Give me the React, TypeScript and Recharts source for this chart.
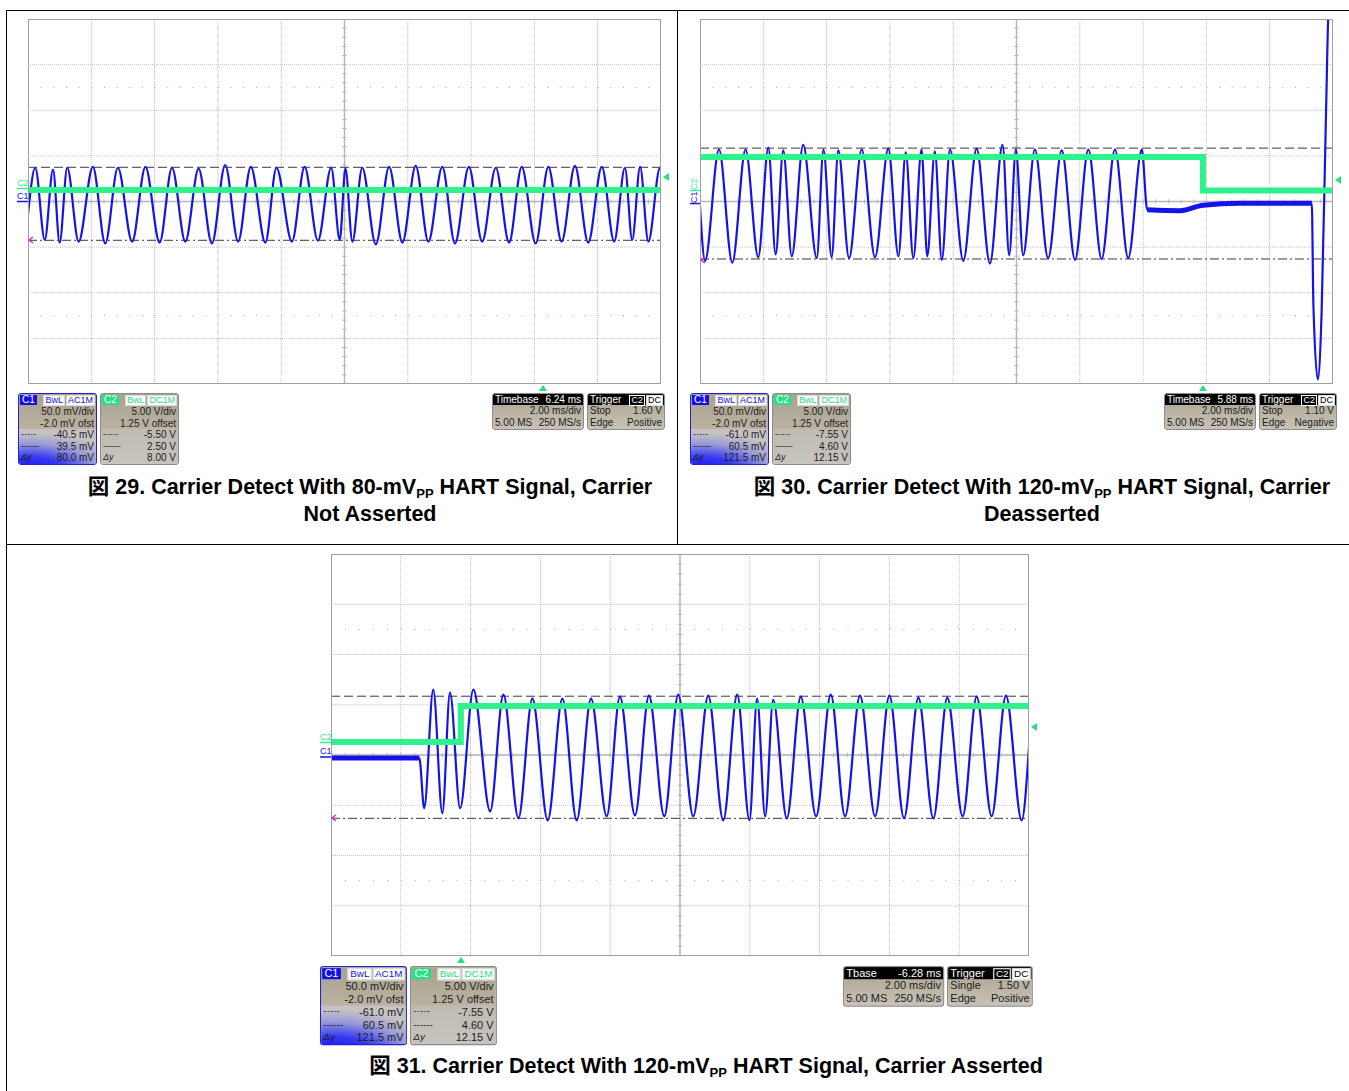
import React from 'react';
import { LineChart, Line, XAxis, YAxis, CartesianGrid, ReferenceLine } from 'recharts';

const BLUE = '#1414ea';
const GREEN = '#2ef28e';
const FONT = '"Liberation Sans", Arial, "Noto Sans CJK JP", sans-serif';

// 2 ms/div over 10 divisions
const TIME_TICKS = [0, 2, 4, 6, 8, 10, 12, 14, 16, 18, 20];
// C1: 50 mV/div, -2.0 mV offset -> screen centre sits at +2 mV
const C1_CENTER = 2;
const C1_DIV = 50;
const C1_DOMAIN = [C1_CENTER - 4 * C1_DIV, C1_CENTER + 4 * C1_DIV];
const C1_TICKS = [-198, -148, -98, -48, 2, 52, 102, 152, 202];
// C2: 5 V/div, 1.25 V offset
const C2_DOMAIN = [-21.25, 18.75];

// Fig. 29 – 80 mVpp HART, CD low
const FIG29_T = [
  0, 0.23, 0.53, 0.79, 1.0, 1.24, 1.6, 2.05, 2.44, 2.84,
  3.29, 3.71, 4.16, 4.55, 4.97, 5.39, 5.81, 6.23, 6.64, 7.04,
  7.5, 7.85, 8.34, 8.74, 9.16, 9.58, 9.85, 10.03, 10.25, 10.56,
  10.99, 11.41, 11.83, 12.25, 12.65, 13.09, 13.49, 13.93, 14.35, 14.78,
  15.2, 15.6, 16.04, 16.44, 16.86, 17.28, 17.7, 18.13, 18.52, 18.86,
  19.09, 19.34, 19.6, 19.97, 20,
];
const FIG29_C1 = [
  -12, 39, -40, 37, -43, 39, -42, 40, -44, 39,
  -42, 40, -43, 39, -42, 38, -44, 42, -42, 40,
  -43, 39, -42, 40, -41, 39, -40, 38, -42, 39,
  -45, 40, -43, 41, -42, 40, -44, 40, -42, 39,
  -43, 40, -44, 40, -42, 41, -43, 40, -42, 39,
  -40, 40, -42, 39, 36,
];
const FIG29_CD_T = [0, 20];
const FIG29_CD = [0.01, 0.01];
const FIG29_CURSORS = [39.5, -40.5];

// Fig. 30 – 120 mVpp HART, carrier drops out
const FIG30_T = [
  0, 0.16, 0.6, 1.02, 1.44, 1.84, 2.16, 2.39, 2.63, 2.9,
  3.26, 3.69, 3.9, 4.16, 4.37, 4.71, 5.11, 5.53, 5.95, 6.27,
  6.5, 6.74, 7.0, 7.18, 7.42, 7.64, 7.9, 8.32, 8.74, 9.16,
  9.56, 9.77, 9.98, 10.21, 10.58, 11.0, 11.43, 11.85, 12.27, 12.69,
  13.11, 13.53, 13.96, 14.13, 15.17, 15.89, 17.06, 19.33, 19.38, 19.52,
  19.64, 19.78, 19.87, 20,
];
const FIG30_C1 = [
  -4, -63, 59, -65, 59, -59, 61, -56, 58, -58,
  64, -60, 59, -59, 58, -60, 59, -59, 60, -58,
  56, -60, 59, -58, 57, -62, 59, -63, 60, -66,
  64, -57, 59, -57, 59, -60, 58, -62, 59, -61,
  59, -60, 59, -7, -8, -2, 0, 0, -110, -193,
  -120, 100, 220, 230,
];
// noisy idle stretch after the carrier stops
const FIG30_IDLE_T = [14.13, 15.17, 15.89, 17.06, 19.33];
const FIG30_IDLE = [-7, -8, -2, 0, 0];
const FIG30_CD_T = [0, 15.89, 15.89, 20];
const FIG30_CD = [3.63, 3.63, -0.05, -0.05];
const FIG30_CURSORS = [60.5, -61];

// Fig. 31 – 120 mVpp HART, carrier starts
const FIG31_T = [
  0, 2.53, 2.67, 2.93, 3.19, 3.41, 3.7, 4.08, 4.56, 4.94,
  5.37, 5.77, 6.21, 6.63, 7.04, 7.45, 7.9, 8.28, 8.71, 9.11,
  9.55, 9.95, 10.38, 10.81, 11.24, 11.64, 11.99, 12.21, 12.44, 12.67,
  13.06, 13.46, 13.9, 14.32, 14.73, 15.16, 15.59, 16.0, 16.42, 16.83,
  17.26, 17.66, 18.1, 18.5, 18.93, 19.34, 19.79, 20,
];
const FIG31_C1 = [
  -1, -1, -51, 67, -56, 64, -51, 67, -54, 62,
  -61, 58, -63, 58, -63, 58, -59, 60, -58, 61,
  -59, 62, -59, 61, -63, 62, -63, 58, -59, 57,
  -61, 60, -59, 62, -59, 61, -59, 61, -61, 59,
  -61, 59, -59, 60, -59, 61, -63, 10,
];
const FIG31_IDLE_T = [0, 2.53];
const FIG31_IDLE = [-1, -1];
const FIG31_CD_T = [0, 3.72, 3.72, 20];
const FIG31_CD = [0.04, 0.04, 3.63, 3.63];
const FIG31_CURSORS = [60.5, -61];

const zip = (t: number[], v: number[]) => t.map((x, i) => ({ t: x, v: v[i] }));

const range = (n: number, step: number, from: number) =>
  Array.from({ length: n }, (_, i) => from + i * step);

interface ScopeProps {
  left: number;
  top: number;
  width: number;
  height: number;
  c1: { t: number; v: number }[];
  idle?: { t: number; v: number }[];
  cd: { t: number; v: number }[];
  cursors: number[];
}

function Scope({ left, top, width, height, c1, idle, cd, cursors }: ScopeProps) {
  // minor tick half-length, in axis units
  const tickX = (20 / width) * 2.2;
  const tickY = ((8 * C1_DIV) / height) * 2.2;
  const xMinor = range(49, 0.4, 0.4);
  const yMinor = range(39, C1_DIV / 5, C1_CENTER - 3.8 * C1_DIV);
  const dotGap = width / 50;
  const gridColor = '#b6b6b6';

  return (
    <div style={{ position: 'absolute', left, top, width, height, background: '#fff' }}>
      <LineChart width={width} height={height} margin={{ top: 0, right: 0, bottom: 0, left: 0 }}>
        <XAxis type="number" dataKey="t" domain={[0, 20]} ticks={TIME_TICKS} hide allowDataOverflow />
        <YAxis yAxisId="c1" type="number" domain={C1_DOMAIN} ticks={C1_TICKS} hide allowDataOverflow />
        <YAxis yAxisId="c2" type="number" domain={C2_DOMAIN} hide allowDataOverflow />
        <CartesianGrid yAxisId="c1" stroke="#c4c4c4" strokeDasharray="1 1" />
        <ReferenceLine yAxisId="c1" y={C1_CENTER + 2.5 * C1_DIV} stroke="#a8a8a8" strokeDasharray={`1 ${dotGap - 1}`} />
        <ReferenceLine yAxisId="c1" y={C1_CENTER - 2.5 * C1_DIV} stroke="#a8a8a8" strokeDasharray={`1 ${dotGap - 1}`} />
        <ReferenceLine yAxisId="c1" x={10} stroke={gridColor} strokeWidth={1.4} />
        <ReferenceLine yAxisId="c1" y={C1_CENTER} stroke={gridColor} strokeWidth={1.4} />
        {xMinor.map(x => (
          <ReferenceLine
            key={`xm${x}`}
            yAxisId="c1"
            segment={[{ x, y: C1_CENTER - tickY }, { x, y: C1_CENTER + tickY }]}
            stroke={gridColor}
          />
        ))}
        {yMinor.map(y => (
          <ReferenceLine
            key={`ym${y}`}
            yAxisId="c1"
            segment={[{ x: 10 - tickX, y }, { x: 10 + tickX, y }]}
            stroke={gridColor}
          />
        ))}
        <ReferenceLine yAxisId="c1" y={cursors[0]} stroke="#3a3a3a" strokeDasharray="9 4" />
        <ReferenceLine yAxisId="c1" y={cursors[1]} stroke="#3a3a3a" strokeDasharray="9 3 2 3" />
        <Line
          data={c1}
          dataKey="v"
          yAxisId="c1"
          type="monotone"
          stroke={BLUE}
          strokeWidth={2.2}
          dot={false}
          isAnimationActive={false}
        />
        {idle && (
          <Line
            data={idle}
            dataKey="v"
            yAxisId="c1"
            type="monotone"
            stroke={BLUE}
            strokeWidth={5}
            dot={false}
            isAnimationActive={false}
          />
        )}
        <Line
          data={cd}
          dataKey="v"
          yAxisId="c2"
          type="linear"
          stroke={GREEN}
          strokeWidth={6}
          dot={false}
          isAnimationActive={false}
        />
      </LineChart>
      <div
        style={{
          position: 'absolute',
          left: 0,
          top: 0,
          width,
          height,
          boxSizing: 'border-box',
          border: '1px solid #a0a0a0',
          pointerEvents: 'none',
        }}
      />
    </div>
  );
}

const TAN = 'linear-gradient(#aaa28e, #c9c3b6)';

function Badge({ text, color, bg = '#fff', border = '#d8d8d8' }: { text: string; color: string; bg?: string; border?: string }) {
  return (
    <span
      style={{
        display: 'inline-block',
        background: bg,
        color,
        border: `1px solid ${border}`,
        padding: '0 1px',
        height: 9,
        lineHeight: '9px',
        fontSize: 9,
        marginLeft: 1,
      }}
    >
      {text}
    </span>
  );
}

function Row({ left, right }: { left?: React.ReactNode; right: React.ReactNode }) {
  return (
    <div style={{ height: 11.6, lineHeight: '11.6px', display: 'flex', justifyContent: 'space-between', padding: '0 2px 0 2px' }}>
      <span style={{ fontSize: 9 }}>{left}</span>
      <span>{right}</span>
    </div>
  );
}

interface ChannelBoxProps {
  x: number;
  y: number;
  scale?: number;
  ch: string;
  coupling: string;
  color: string;
  border: string;
  lower: string;
  vals: string[];
}

function ChannelBox({ x, y, scale = 1, ch, coupling, color, border, lower, vals }: ChannelBoxProps) {
  return (
    <div
      style={{
        position: 'absolute',
        left: x,
        top: y,
        width: 79,
        height: 72,
        boxSizing: 'border-box',
        border: `1px solid ${border}`,
        borderRadius: 3,
        overflow: 'hidden',
        transform: `scale(${scale})`,
        transformOrigin: '0 0',
        fontFamily: FONT,
        fontSize: 10,
        color: '#1c1c1c',
        background: TAN,
      }}
    >
      <div style={{ height: 12, position: 'relative' }}>
        <span
          style={{
            position: 'absolute',
            left: 1,
            top: 1,
            background: color,
            color: '#fff',
            padding: '0 2px',
            height: 10,
            lineHeight: '10px',
          }}
        >
          {ch}
        </span>
        <span style={{ position: 'absolute', right: 1, top: 0 }}>
          <Badge text="BwL" color={color} />
          <Badge text={coupling} color={color} />
        </span>
      </div>
      <Row right={vals[0]} />
      <Row right={vals[1]} />
      <div style={{ background: lower, height: 36 }}>
        <Row left="-·-·-" right={vals[2]} />
        <Row left="------" right={vals[3]} />
        <Row left={<i>Δy</i>} right={vals[4]} />
      </div>
    </div>
  );
}

function TimeBox({ x, y, scale = 1, label, delay }: { x: number; y: number; scale?: number; label: string; delay: string }) {
  return (
    <div
      style={{
        position: 'absolute',
        left: x,
        top: y,
        width: 92,
        height: 37,
        boxSizing: 'border-box',
        border: '1px solid #8c8c8c',
        borderRadius: 3,
        overflow: 'hidden',
        transform: `scale(${scale})`,
        transformOrigin: '0 0',
        fontFamily: FONT,
        fontSize: 10,
        color: '#1c1c1c',
        background: TAN,
      }}
    >
      <div style={{ height: 11, lineHeight: '11px', background: '#000', color: '#fff', display: 'flex', justifyContent: 'space-between', padding: '0 2px' }}>
        <span>{label}</span>
        <span>{delay}</span>
      </div>
      <Row right="2.00 ms/div" />
      <Row left={<span style={{ fontSize: 10 }}>5.00 MS</span>} right="250 MS/s" />
    </div>
  );
}

function TriggerBox({ x, y, scale = 1, mode, level, slope }: { x: number; y: number; scale?: number; mode: string; level: string; slope: string }) {
  return (
    <div
      style={{
        position: 'absolute',
        left: x,
        top: y,
        width: 78,
        height: 37,
        boxSizing: 'border-box',
        border: '1px solid #8c8c8c',
        borderRadius: 3,
        overflow: 'hidden',
        transform: `scale(${scale})`,
        transformOrigin: '0 0',
        fontFamily: FONT,
        fontSize: 10,
        color: '#1c1c1c',
        background: TAN,
      }}
    >
      <div style={{ height: 11, lineHeight: '11px', background: '#000', color: '#fff', display: 'flex', justifyContent: 'space-between', padding: '0 1px 0 2px' }}>
        <span>Trigger</span>
        <span>
          <Badge text="C2" color="#fff" bg="#000" border="#fff" />
          <Badge text="DC" color="#000" />
        </span>
      </div>
      <Row left={<span style={{ fontSize: 10 }}>{mode}</span>} right={level} />
      <Row left={<span style={{ fontSize: 10 }}>Edge</span>} right={slope} />
    </div>
  );
}

const C1_LOWER =
  'radial-gradient(ellipse 120% 110% at 15% 120%, #0a0aff 0%, #3438f2 38%, #9a9bd6 72%, #c6c3c2 100%)';
const C2_LOWER = 'linear-gradient(#bebbb3, #c7c4bd)';

function Caption({ cx, top, num, amp, tail, second }: { cx: number; top: number; num: number; amp: number; tail: string; second?: string }) {
  return (
    <div
      style={{
        position: 'absolute',
        left: cx - 400,
        top,
        width: 800,
        textAlign: 'center',
        fontFamily: FONT,
        fontWeight: 'bold',
        fontSize: 21.5,
        lineHeight: '27px',
        color: '#000',
      }}
    >
      <div style={{ height: 27 }}>
        図 {num}. Carrier Detect With {amp}-mV
        <span style={{ fontSize: 13, position: 'relative', top: 4, lineHeight: 0 }}>PP</span> HART Signal, {tail}
      </div>
      {second && <div style={{ height: 27 }}>{second}</div>}
    </div>
  );
}

function Marks() {
  const tri = (x: number, y: number, dir: 'left' | 'up') =>
    dir === 'left'
      ? `${x},${y} ${x + 6},${y - 4} ${x + 6},${y + 4}`
      : `${x},${y} ${x - 4},${y + 6} ${x + 4},${y + 6}`;
  const chev = (x: number, y: number) => `${x + 4},${y - 3} ${x},${y} ${x + 4},${y + 3}`;
  const lbl = { fontFamily: FONT, fontSize: 9 };
  return (
    <svg width={1349} height={1091} style={{ position: 'absolute', left: 0, top: 0, pointerEvents: 'none' }}>
      {/* table rules */}
      <line x1={6.5} y1={10.5} x2={1349} y2={10.5} stroke="#000" />
      <line x1={6.5} y1={10} x2={6.5} y2={1091} stroke="#000" />
      <line x1={677.5} y1={10} x2={677.5} y2={545} stroke="#000" />
      <line x1={6.5} y1={544.5} x2={1349} y2={544.5} stroke="#000" />

      {/* trigger level / position markers */}
      <polygon points={tri(663, 177, 'left')} fill="#25e07e" />
      <polygon points={tri(543, 385, 'up')} fill="#25e07e" />
      <polygon points={tri(1335, 180, 'left')} fill="#25e07e" />
      <polygon points={tri(1203, 385, 'up')} fill="#25e07e" />
      <polygon points={tri(1031, 727, 'left')} fill="#25e07e" />
      <polygon points={tri(461, 957, 'up')} fill="#25e07e" />

      {/* cursor handles */}
      <polyline points={chev(29, 240)} fill="none" stroke="#e020e0" strokeWidth={1.5} />
      <polyline points={chev(701, 260)} fill="none" stroke="#e020e0" strokeWidth={1.5} />
      <polyline points={chev(332, 818)} fill="none" stroke="#e020e0" strokeWidth={1.5} />

      {/* channel ground markers */}
      <text x={17} y={186} fill={GREEN} {...lbl}>C2</text>
      <line x1={17} y1={188.5} x2={28} y2={188.5} stroke={GREEN} strokeWidth={1.5} />
      <text x={17} y={199} fill={BLUE} {...lbl}>C1</text>
      <line x1={17} y1={201.5} x2={28} y2={201.5} stroke={BLUE} strokeWidth={1.5} />

      <text x={697} y={190} fill={GREEN} {...lbl} transform="rotate(-90 697 190)">C2</text>
      <line x1={690} y1={190.5} x2={700} y2={190.5} stroke={GREEN} strokeWidth={1.5} />
      <text x={697} y={203} fill={BLUE} {...lbl} transform="rotate(-90 697 203)">C1</text>
      <line x1={690} y1={203.5} x2={700} y2={203.5} stroke={BLUE} strokeWidth={1.5} />

      <text x={320} y={740} fill={GREEN} {...lbl}>C2</text>
      <line x1={320} y1={742.5} x2={331} y2={742.5} stroke={GREEN} strokeWidth={1.5} />
      <text x={320} y={754} fill={BLUE} {...lbl}>C1</text>
      <line x1={320} y1={757} x2={331} y2={757} stroke={BLUE} strokeWidth={1.5} />
    </svg>
  );
}

export default function App() {
  const c1Vals29 = ['50.0 mV/div', '-2.0 mV ofst', '-40.5 mV', '39.5 mV', '80.0 mV'];
  const c2Vals29 = ['5.00 V/div', '1.25 V offset', '-5.50 V', '2.50 V', '8.00 V'];
  const c1Vals30 = ['50.0 mV/div', '-2.0 mV ofst', '-61.0 mV', '60.5 mV', '121.5 mV'];
  const c2Vals30 = ['5.00 V/div', '1.25 V offset', '-7.55 V', '4.60 V', '12.15 V'];

  return (
    <div style={{ position: 'absolute', left: 0, top: 0, width: 1349, height: 1091, background: '#fff', overflow: 'hidden' }}>
      <Scope
        left={28}
        top={19}
        width={633}
        height={365}
        c1={zip(FIG29_T, FIG29_C1)}
        cd={zip(FIG29_CD_T, FIG29_CD)}
        cursors={FIG29_CURSORS}
      />
      <Scope
        left={700}
        top={19}
        width={633}
        height={365}
        c1={zip(FIG30_T, FIG30_C1)}
        idle={zip(FIG30_IDLE_T, FIG30_IDLE)}
        cd={zip(FIG30_CD_T, FIG30_CD)}
        cursors={FIG30_CURSORS}
      />
      <Scope
        left={331}
        top={554}
        width={698}
        height={402}
        c1={zip(FIG31_T, FIG31_C1)}
        idle={zip(FIG31_IDLE_T, FIG31_IDLE)}
        cd={zip(FIG31_CD_T, FIG31_CD)}
        cursors={FIG31_CURSORS}
      />

      <ChannelBox x={18} y={393} ch="C1" coupling="AC1M" color="#1010e8" border="#2020e0" lower={C1_LOWER} vals={c1Vals29} />
      <ChannelBox x={100} y={393} ch="C2" coupling="DC1M" color="#22e286" border="#8a8a8a" lower={C2_LOWER} vals={c2Vals29} />
      <TimeBox x={492} y={393} label="Timebase" delay="6.24 ms" />
      <TriggerBox x={587} y={393} mode="Stop" level="1.60 V" slope="Positive" />

      <ChannelBox x={690} y={393} ch="C1" coupling="AC1M" color="#1010e8" border="#2020e0" lower={C1_LOWER} vals={c1Vals30} />
      <ChannelBox x={772} y={393} ch="C2" coupling="DC1M" color="#22e286" border="#8a8a8a" lower={C2_LOWER} vals={c2Vals30} />
      <TimeBox x={1164} y={393} label="Timebase" delay="5.88 ms" />
      <TriggerBox x={1259} y={393} mode="Stop" level="1.10 V" slope="Negative" />

      <ChannelBox x={320} y={966} scale={1.1} ch="C1" coupling="AC1M" color="#1010e8" border="#2020e0" lower={C1_LOWER} vals={c1Vals30} />
      <ChannelBox x={410} y={966} scale={1.1} ch="C2" coupling="DC1M" color="#22e286" border="#8a8a8a" lower={C2_LOWER} vals={c2Vals30} />
      <TimeBox x={843} y={966} scale={1.1} label="Tbase" delay="-6.28 ms" />
      <TriggerBox x={947} y={966} scale={1.1} mode="Single" level="1.50 V" slope="Positive" />

      <Caption cx={370} top={474} num={29} amp={80} tail="Carrier" second="Not Asserted" />
      <Caption cx={1042} top={474} num={30} amp={120} tail="Carrier" second="Deasserted" />
      <Caption cx={706} top={1053} num={31} amp={120} tail="Carrier Asserted" />

      <Marks />
    </div>
  );
}
